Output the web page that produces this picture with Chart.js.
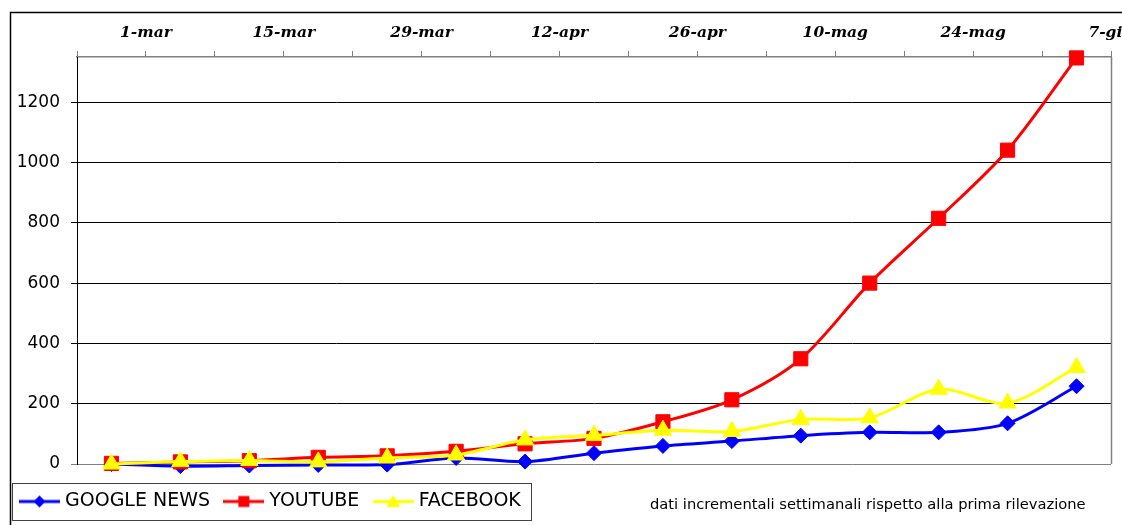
<!DOCTYPE html>
<html>
<head>
<meta charset="utf-8">
<script src="https://cdn.jsdelivr.net/npm/chart.js@4.4.1/dist/chart.umd.min.js"></script>
<style>
  body { margin: 0; background: #fff; }
  canvas { display: block; }
</style>
</head>
<body>
<canvas id="myCanvas" width="1122" height="525"></canvas>
<script>
// weekly samples (one per week, between the date ticks)
const weeks = ['22-feb', '1-mar', '8-mar', '15-mar', '22-mar', '29-mar', '5-apr', '12-apr',
    '19-apr', '26-apr', '3-mag', '10-mag', '17-mag', '24-mag', '31-mag'];
// date ticks on the top axis (one every week, label every two)
const topTicks = ['', '1-mar', '', '15-mar', '', '29-mar', '', '12-apr', '', '26-apr',
    '', '10-mag', '', '24-mag', '', '7-giu'];

const googleNews = [0, -7, -5, -3, -2, 20, 8, 36, 60, 76, 94, 105, 105, 135, 258];
const youtube = [2, 7, 11, 22, 27, 42, 67, 85, 140, 213, 349, 600, 815, 1041, 1347];
const facebook = [0, 8, 12, 7, 20, 30, 80, 95, 112, 108, 148, 153, 248, 202, 320];

const yMax = 1350;
const noteText = 'dati incrementali settimanali rispetto alla prima rilevazione';

Chart.defaults.font.family = '"DejaVu Sans", Verdana, sans-serif';
Chart.defaults.color = '#000';

function makeIcon(color, shape) {
    const c = document.createElement('canvas');
    c.width = 41;
    c.height = 16;
    const g = c.getContext('2d');
    g.strokeStyle = color;
    g.fillStyle = color;
    g.lineWidth = 3;
    g.beginPath();
    g.moveTo(0, 8);
    g.lineTo(41, 8);
    g.stroke();
    g.beginPath();
    if (shape === 'rectRot') {
        g.moveTo(20.5, 2); g.lineTo(26.5, 8); g.lineTo(20.5, 14); g.lineTo(14.5, 8);
    } else if (shape === 'rect') {
        g.rect(15, 2.5, 11, 11);
    } else {
        g.moveTo(20.5, 1.5); g.lineTo(27.5, 13.5); g.lineTo(13.5, 13.5);
    }
    g.closePath();
    g.fill();
    return c;
}

const framePlugin = {
    id: 'frame',
    afterDraw(chart) {
        const ctx = chart.ctx;
        const area = chart.chartArea;
        ctx.save();
        // right side of the plot area
        ctx.strokeStyle = '#808080';
        ctx.lineWidth = 1.5;
        ctx.beginPath();
        ctx.moveTo(area.right + 0.5, area.top);
        ctx.lineTo(area.right + 0.5, area.bottom);
        ctx.stroke();
        // outer frame (top and left)
        ctx.strokeStyle = '#000';
        ctx.lineWidth = 1.5;
        ctx.beginPath();
        ctx.moveTo(10.5, 525);
        ctx.lineTo(10.5, 12.5);
        ctx.lineTo(1122, 12.5);
        ctx.stroke();
        // box round the legend
        const boxes = chart.legend.legendHitBoxes;
        const first = boxes[0];
        const last = boxes[boxes.length - 1];
        const left = Math.round(first.left - 11.5) + 0.5;
        const right = Math.round(last.left + last.width + 10) + 0.5;
        const top = Math.round(first.top - 9) + 0.5;
        const bottom = Math.round(first.top + 28) + 0.5;
        ctx.strokeStyle = '#404040';
        ctx.lineWidth = 1;
        ctx.strokeRect(left, top, right - left, bottom - top);
        // note
        ctx.fillStyle = '#000';
        ctx.font = '14.7px "DejaVu Sans"';
        ctx.textAlign = 'left';
        ctx.textBaseline = 'alphabetic';
        ctx.fillText(noteText, 650, 509);
        ctx.restore();
    }
};

function makeDataset(label, data, color, shape, radius, order) {
    return {
        label: label,
        data: data,
        borderColor: color,
        backgroundColor: color,
        borderWidth: 3,
        pointStyle: shape,
        pointRadius: radius,
        pointHoverRadius: radius,
        pointBorderWidth: 1,
        pointBackgroundColor: color,
        pointBorderColor: color,
        tension: 0.3,
        clip: false,
        order: order,
        icon: makeIcon(color, shape)
    };
}

const myCanvas = document.getElementById('myCanvas').getContext('2d');

window.myChart = new Chart(myCanvas, {
    type: 'line',
    data: {
        labels: weeks,
        datasets: [
            makeDataset('GOOGLE NEWS', googleNews, '#0000ff', 'rectRot', 7.5, 2),
            makeDataset('YOUTUBE', youtube, '#ff0000', 'rect', 10, 1),
            makeDataset('FACEBOOK', facebook, '#ffff00', 'triangle', 10, 0)
        ]
    },
    plugins: [framePlugin],
    options: {
        responsive: false,
        animation: false,
        layout: {
            padding: { left: 5.7, right: 9, top: 0, bottom: 4 }
        },
        plugins: {
            title: { display: false },
            tooltip: { enabled: false },
            legend: {
                position: 'bottom',
                align: 'start',
                labels: {
                    usePointStyle: true,
                    pointStyleWidth: 32,
                    padding: 17.8,
                    color: '#000',
                    font: { size: 19 },
                    generateLabels(chart) {
                        return chart.data.datasets.map((ds, i) => ({
                            text: ds.label,
                            pointStyle: ds.icon,
                            datasetIndex: i,
                            hidden: false,
                            fillStyle: 'transparent',
                            strokeStyle: 'transparent',
                            lineWidth: 0,
                            fontColor: '#000'
                        }));
                    }
                }
            }
        },
        scales: {
            x: {
                type: 'category',
                offset: true,
                display: true,
                ticks: { display: false },
                grid: { display: false },
                border: { display: false },
                afterFit(scale) {
                    scale.height = 10.2;
                }
            },
            x2: {
                type: 'category',
                labels: topTicks,
                position: 'top',
                display: true,
                offset: false,
                ticks: {
                    autoSkip: false,
                    maxRotation: 0,
                    padding: 9,
                    color: '#000',
                    font: { family: '"DejaVu Serif", serif', size: 15.5, style: 'italic', weight: 'bold' }
                },
                grid: {
                    display: true,
                    drawOnChartArea: false,
                    drawTicks: true,
                    tickLength: 6,
                    color: '#808080',
                    lineWidth: 1
                },
                border: { display: true, color: '#808080', width: 1.5 },
                afterFit(scale) {
                    scale.height = 57;
                    scale.paddingLeft = 0;
                    scale.paddingRight = 0;
                }
            },
            y: {
                min: 0,
                max: yMax,
                ticks: {
                    stepSize: 200,
                    includeBounds: false,
                    padding: 11,
                    color: '#000',
                    font: { size: 17 },
                    callback: (v) => String(v)
                },
                grid: {
                    color: (c) => c.tick && c.tick.value === 0 ? '#808080' : '#000',
                    lineWidth: 1,
                    tickLength: 6
                },
                border: { display: true, color: '#000', width: 1 },
                afterFit(scale) {
                    scale.width = 71.3;
                }
            }
        }
    }
});
</script>
</body>
</html>
